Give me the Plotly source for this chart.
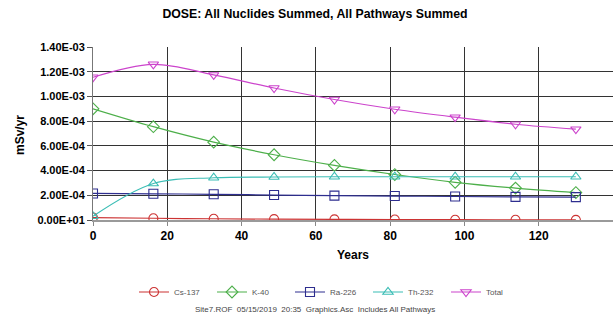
import plotly.graph_objects as go

years = [0, 16.25, 32.5, 48.75, 65, 81.25, 97.5, 113.75, 130]
cs137 = [2.0e-5, 1.4e-5, 1.0e-5, 7.0e-6, 5.0e-6, 3.5e-6, 2.4e-6, 1.7e-6, 1.2e-6]
k40 = [9.0e-4, 7.55e-4, 6.3e-4, 5.28e-4, 4.42e-4, 3.68e-4, 3.05e-4, 2.58e-4, 2.22e-4]
ra226 = [2.15e-4, 2.12e-4, 2.08e-4, 2.02e-4, 1.97e-4, 1.94e-4, 1.90e-4, 1.87e-4, 1.85e-4]
th232 = [3.0e-5, 2.95e-4, 3.42e-4, 3.48e-4, 3.5e-4, 3.5e-4, 3.5e-4, 3.5e-4, 3.5e-4]
total = [1.155e-3, 1.26e-3, 1.174e-3, 1.068e-3, 0.975e-3, 0.896e-3, 0.832e-3, 0.775e-3, 0.735e-3]

y_tickvals = [0, 2e-4, 4e-4, 6e-4, 8e-4, 1.0e-3, 1.2e-3, 1.4e-3]
y_ticktext = ["0.00E+01", "2.00E-04", "4.00E-04", "6.00E-04", "8.00E-04",
              "1.00E-03", "1.20E-03", "1.40E-03"]
x_tickvals = [0, 20, 40, 60, 80, 100, 120, 140]

series = [
    ("Cs-137", cs137, "#CC3333", "circle-open"),
    ("K-40", k40, "#4DAF4A", "diamond-open"),
    ("Ra-226", ra226, "#2E2E8F", "square-open"),
    ("Th-232", th232, "#3BBDB5", "triangle-up-open"),
    ("Total", total, "#CC44CC", "triangle-down-open"),
]

W, H = 613, 328
L, R, T, B = 93, 0, 47, 108
pw, ph = W - L - R, H - T - B

def px(x):
    return (x - L) / pw

def py(y):
    return (H - B - y) / ph

fig = go.Figure()
for name, vals, color, sym in series:
    fig.add_trace(go.Scatter(
        x=years, y=vals, name=name, mode="lines+markers",
        line=dict(color=color, width=1.2, shape="spline", smoothing=1.0),
        marker=dict(symbol=sym, size=9, color=color, line=dict(width=1.1)),
    ))

font_family = "Liberation Sans, Arial, sans-serif"

fig.update_layout(
    width=W, height=H,
    margin=dict(l=L, r=R, t=T, b=B, pad=0),
    paper_bgcolor="white", plot_bgcolor="white",
    font=dict(family=font_family, color="black"),
    title=dict(text="DOSE: All Nuclides Summed, All Pathways Summed",
               x=315 / W, xanchor="center", y=1 - 14 / H, yanchor="middle",
               font=dict(size=12.3, weight="bold", family=font_family)),
    showlegend=True,
    legend=dict(orientation="h", x=px(134), xanchor="left", y=py(292), yanchor="middle",
                font=dict(size=8, color="#555555"), bgcolor="rgba(0,0,0,0)",
                entrywidth=33, entrywidthmode="pixels", itemwidth=30),
    xaxis=dict(range=[0, 140], tickvals=x_tickvals, ticks="outside", ticklen=4,
               tickcolor="#888888", showgrid=True, gridcolor="#333333", gridwidth=1,
               showline=True, linecolor="#9a9a9a", linewidth=2, zeroline=False,
               automargin=False,
               tickfont=dict(size=12, weight="bold", color="black")),
    yaxis=dict(range=[0, 1.4e-3], tickvals=y_tickvals, ticktext=y_ticktext,
               ticks="outside", ticklen=5, tickcolor="#555555",
               showgrid=True, gridcolor="#333333", gridwidth=1,
               showline=True, linecolor="#777777", linewidth=1, zeroline=False,
               automargin=False,
               tickfont=dict(size=11, weight="bold", color="black")),
    annotations=[
        dict(text="Years", xref="paper", yref="paper", x=px(353), y=py(255),
             showarrow=False, xanchor="center", yanchor="middle",
             font=dict(size=12, weight="bold", color="black")),
        dict(text="mSv/yr", xref="paper", yref="paper", x=px(20), y=py(135),
             showarrow=False, xanchor="center", yanchor="middle", textangle=-90,
             font=dict(size=12, weight="bold", color="black")),
        dict(text="Site7.ROF  05/15/2019  20:35  Graphics.Asc  Includes All Pathways",
             xref="paper", yref="paper", x=px(315), y=py(309),
             showarrow=False, xanchor="center", yanchor="middle",
             font=dict(size=8, color="#444444")),
    ],
)

fig.write_html("out.html", config={"displayModeBar": False},
               post_script="document.body.style.margin='0';document.body.style.overflow='hidden';")
